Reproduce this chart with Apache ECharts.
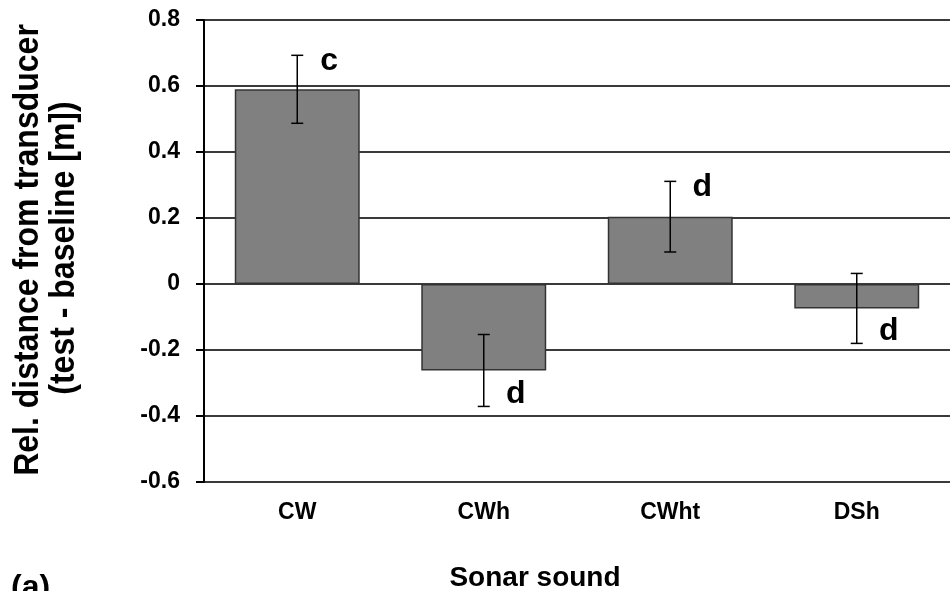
<!DOCTYPE html>
<html>
<head>
<meta charset="utf-8">
<script src="https://cdn.jsdelivr.net/npm/echarts@6/dist/echarts.min.js"></script>
<style>
html,body{margin:0;padding:0;background:#fff;}
#chart{width:950px;height:591px;}
</style>
</head>
<body>
<div id="chart"></div>
<script>
// ---- data ----
const categories = ['CW', 'CWh', 'CWht', 'DSh'];
const meanValues = [0.59, -0.262, 0.204, -0.074];
const errorValues = [0.103, 0.109, 0.107, 0.106];
const groupLetters = ['c', 'd', 'd', 'd'];
const yTicks = [-0.6, -0.4, -0.2, 0, 0.2, 0.4, 0.6, 0.8];

const FONT = '"Liberation Sans", Arial, sans-serif';

const chart = echarts.init(document.getElementById('chart'), null, {renderer: 'canvas'});

const errData = categories.map((c, i) => [i, meanValues[i] - errorValues[i], meanValues[i] + errorValues[i], meanValues[i]]);

const option = {
  animation: false,
  backgroundColor: '#fff',
  grid: {left: 204, right: -7, top: 20, bottom: 109, containLabel: false},
  xAxis: {
    type: 'category',
    data: categories,
    axisLine: {onZero: false, show: false},
    axisTick: {show: false},
    axisLabel: {color: '#000', fontFamily: FONT, fontWeight: 'bold', fontSize: 23, margin: 19},
    splitLine: {show: false}
  },
  yAxis: {
    type: 'value',
    min: yTicks[0],
    max: yTicks[yTicks.length - 1],
    interval: 0.2,
    axisLine: {show: true, lineStyle: {color: '#000', width: 2}},
    axisTick: {show: true, inside: false, length: 8, lineStyle: {color: '#000', width: 2}},
    axisLabel: {
      color: '#000', fontFamily: FONT, fontWeight: 'bold', fontSize: 23, margin: 24,
      formatter: v => {
        const r = Math.round(v * 10) / 10;
        return r === 0 ? '0' : r.toFixed(1);
      }
    },
    splitLine: {show: true, lineStyle: {color: '#3a3a3a', width: 2}}
  },
  graphic: [
    {type: 'text', x: 28, y: 250, rotation: Math.PI / 2, scaleY: 1.1,
      style: {text: 'Rel. distance from transducer', font: 'bold 32px ' + FONT, fill: '#000', textAlign: 'center', textVerticalAlign: 'middle'}},
    {type: 'text', x: 64, y: 248, rotation: Math.PI / 2, scaleY: 1.1,
      style: {text: '(test - baseline [m])', font: 'bold 32px ' + FONT, fill: '#000', textAlign: 'center', textVerticalAlign: 'middle'}},
    {type: 'text', x: 535, y: 578,
      style: {text: 'Sonar sound', font: 'bold 28px ' + FONT, fill: '#000', textAlign: 'center', textVerticalAlign: 'middle'}},
    {type: 'text', x: 11, y: 572,
      style: {text: '(a)', font: 'bold 32px ' + FONT, fill: '#000', textAlign: 'left', textVerticalAlign: 'top'}}
  ],
  series: [
    {
      type: 'bar',
      data: meanValues,
      barWidth: '67%',
      itemStyle: {color: '#808080', borderColor: '#333', borderWidth: 1.5},
      z: 2
    },
    {
      type: 'custom',
      data: errData,
      z: 5,
      renderItem: function (params, api) {
        const x = api.value(0);
        const lo = api.coord([x, api.value(1)]);
        const hi = api.coord([x, api.value(2)]);
        const mean = api.value(3);
        const letter = groupLetters[params.dataIndex];
        const hw = 6;
        const style = {stroke: '#000', lineWidth: 1.5};
        const endY = mean >= 0 ? hi[1] + 6 : lo[1] - 12;
        return {
          type: 'group',
          children: [
            {type: 'line', shape: {x1: hi[0], y1: hi[1], x2: lo[0], y2: lo[1]}, style: style},
            {type: 'line', shape: {x1: hi[0] - hw, y1: hi[1], x2: hi[0] + hw, y2: hi[1]}, style: style},
            {type: 'line', shape: {x1: lo[0] - hw, y1: lo[1], x2: lo[0] + hw, y2: lo[1]}, style: style},
            {type: 'text', x: hi[0] + 32, y: endY,
              style: {text: letter, font: 'bold 32px ' + FONT, fill: '#000', textAlign: 'center', textVerticalAlign: 'middle'}}
          ]
        };
      }
    }
  ]
};
chart.setOption(option);
</script>
</body>
</html>
